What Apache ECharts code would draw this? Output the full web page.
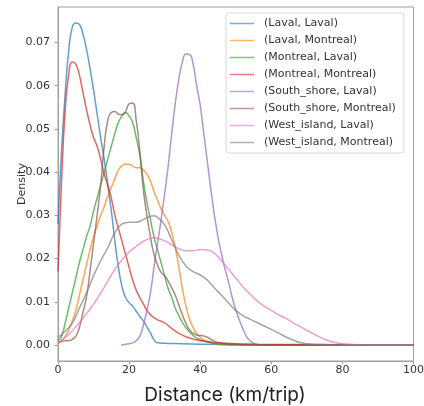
<!DOCTYPE html>
<html>
<head>
<meta charset="utf-8">
<script src="https://cdn.jsdelivr.net/npm/echarts@6/dist/echarts.min.js"></script>
<style>
html,body{margin:0;padding:0;background:#fff;}
#chart{width:424px;height:406px;}
</style>
</head>
<body>
<div id="chart"></div>
<script>
const seriesNames = ['(Laval, Laval)','(Laval, Montreal)','(Montreal, Laval)','(Montreal, Montreal)','(South_shore, Laval)','(South_shore, Montreal)','(West_island, Laval)','(West_island, Montreal)'];
const colors = ['#1f77b4','#ff7f0e','#2ca02c','#d62728','#9467bd','#8c564b','#e377c2','#7f7f7f'];
const yTicks = [0,0.01,0.02,0.03,0.04,0.05,0.06,0.07];
const xTicks = [0,20,40,60,80,100];

const lavalLaval = [[0,0.028],[1,0.045],[2,0.058],[3,0.068],[4,0.0735],[5,0.0745],[6,0.0742],[7,0.072],[8,0.0685],[9,0.064],[10,0.059],[11,0.0535],[12,0.048],[13,0.043],[14,0.037],[15,0.031],[16,0.024],[17,0.018],[18,0.0135],[19,0.011],[20,0.0098],[21,0.009],[22,0.0078],[23,0.0066],[24,0.0056],[25,0.0042],[26,0.0028],[27,0.0012],[28,0.0005],[30,0.0004],[35,0.0003],[40,0.0002],[45,0.0001],[50,0],[100,0]];
const lavalMontreal = [[0,0.0005],[1,0.001],[2,0.002],[3,0.0035],[4,0.0055],[5,0.008],[6,0.0115],[7,0.015],[8,0.0185],[9,0.022],[10,0.025],[11,0.0275],[12,0.030],[13,0.032],[14,0.0345],[15,0.0365],[16,0.0385],[17,0.0405],[18,0.0415],[19,0.0418],[20,0.0418],[21,0.0414],[22,0.041],[23,0.041],[24,0.0405],[25,0.0395],[26,0.038],[27,0.0355],[28,0.0335],[29,0.0315],[30,0.030],[31,0.0285],[32,0.026],[33,0.0225],[34,0.018],[35,0.013],[36,0.009],[37,0.006],[38,0.004],[39,0.0027],[40,0.0018],[41,0.0012],[42,0.0008],[43,0.0005],[45,0.0002],[50,0.0001],[55,0],[100,0]];
const montrealLaval = [[0,0.001],[1,0.002],[2,0.005],[3,0.0085],[4,0.012],[5,0.0155],[6,0.019],[7,0.022],[8,0.025],[9,0.0275],[10,0.031],[11,0.034],[12,0.037],[13,0.040],[14,0.043],[15,0.046],[16,0.049],[17,0.0515],[18,0.053],[19,0.0538],[20,0.053],[21,0.0515],[22,0.048],[23,0.044],[24,0.038],[25,0.033],[26,0.029],[27,0.025],[28,0.022],[29,0.019],[30,0.016],[31,0.013],[32,0.011],[33,0.0085],[34,0.0068],[35,0.0052],[36,0.004],[37,0.003],[38,0.0022],[39,0.0016],[40,0.0012],[42,0.0007],[45,0.0003],[50,0.0001],[55,0],[100,0]];
const montrealMontreal = [[0,0.017],[1,0.038],[2,0.054],[3,0.0625],[4,0.0655],[5,0.065],[6,0.0625],[7,0.0585],[8,0.0545],[9,0.051],[10,0.048],[11,0.046],[12,0.043],[13,0.0395],[14,0.037],[15,0.034],[16,0.030],[17,0.027],[18,0.024],[19,0.021],[20,0.018],[21,0.015],[22,0.0127],[23,0.011],[24,0.0095],[25,0.008],[26,0.007],[27,0.0063],[28,0.0058],[29,0.0055],[30,0.0051],[31,0.0045],[32,0.0038],[33,0.0032],[34,0.0027],[35,0.0023],[36,0.0019],[38,0.0014],[40,0.001],[42,0.0008],[45,0.0005],[50,0.0003],[55,0.0002],[60,0.0001],[70,0.0001],[100,0]];
const southShoreLaval = [[17.8,0],[19,0.0002],[20,0.0003],[21,0.0005],[22,0.001],[23,0.002],[24,0.0045],[25,0.008],[26,0.012],[27,0.018],[28,0.0235],[29,0.029],[30,0.035],[31,0.0415],[32,0.049],[33,0.056],[34,0.0615],[35,0.0655],[36,0.0673],[37,0.0672],[38,0.065],[39,0.060],[40,0.0555],[41,0.049],[42,0.0425],[43,0.036],[44,0.030],[45,0.025],[46,0.021],[47,0.0175],[48,0.0145],[49,0.011],[50,0.0082],[51,0.0058],[52,0.0038],[53,0.002],[54,0.001],[55,0.0004],[56,0.0001],[57,0]];
const southShoreMontreal = [[0,0.0005],[1,0.0008],[2,0.001],[3,0.001],[4,0.0013],[5,0.002],[6,0.004],[7,0.0075],[8,0.011],[9,0.017],[10,0.0235],[11,0.030],[12,0.037],[13,0.046],[14,0.052],[15,0.0538],[16,0.054],[17,0.0534],[18,0.0533],[19,0.054],[20,0.0558],[21,0.056],[22,0.052],[23,0.045],[24,0.036],[25,0.030],[26,0.025],[27,0.021],[28,0.0185],[29,0.0168],[30,0.016],[31,0.0148],[32,0.0132],[33,0.0115],[34,0.0092],[35,0.007],[36,0.005],[37,0.0035],[38,0.0027],[39,0.0023],[40,0.0022],[41,0.0021],[42,0.0018],[43,0.0013],[44,0.0009],[45,0.0006],[48,0.0003],[50,0.0002],[55,0.0001],[60,0],[100,0]];
const westIslandLaval = [[0,0.0005],[2,0.0017],[4,0.0033],[6,0.0052],[8,0.0072],[10,0.0095],[12,0.012],[14,0.0148],[16,0.0175],[18,0.0197],[20,0.0215],[22,0.0228],[24,0.024],[26,0.0247],[27,0.0248],[28,0.0247],[30,0.0241],[32,0.0232],[34,0.0223],[36,0.0218],[38,0.0218],[40,0.0221],[42,0.022],[44,0.0212],[46,0.0195],[48,0.0175],[50,0.0155],[52,0.0135],[54,0.0118],[56,0.0102],[58,0.009],[60,0.008],[62,0.007],[64,0.0062],[66,0.0052],[68,0.0043],[70,0.0034],[72,0.0025],[74,0.0017],[76,0.001],[78,0.0006],[80,0.0003],[84,0.0001],[90,0],[100,0]];
const westIslandMontreal = [[0,0.0018],[2,0.0032],[4,0.005],[6,0.0085],[8,0.012],[10,0.016],[12,0.0195],[14,0.0225],[16,0.026],[18,0.028],[20,0.0284],[22,0.0284],[24,0.029],[26,0.0298],[27,0.0299],[28,0.0295],[30,0.0278],[32,0.0243],[34,0.0208],[36,0.0183],[38,0.017],[40,0.0162],[42,0.015],[44,0.0132],[46,0.0115],[48,0.0097],[50,0.008],[52,0.0068],[54,0.006],[56,0.0052],[58,0.0044],[60,0.0036],[62,0.0028],[64,0.0019],[66,0.0012],[68,0.0006],[70,0.0003],[75,0.0001],[80,0],[100,0]];

const allData = [lavalLaval, lavalMontreal, montrealLaval, montrealMontreal, southShoreLaval, southShoreMontreal, westIslandLaval, westIslandMontreal];

const chart = echarts.init(document.getElementById('chart'), null, {renderer:'canvas'});
const font = 'DejaVu Sans';
const option = {
  animation: false,
  grid: {left: 58, right: 10.5, top: 7, bottom: 45, containLabel: false, outerBoundsMode: 'none', show: true, borderColor: '#a0a0a0', borderWidth: 1, backgroundColor: 'transparent'},
  xAxis: {
    type: 'value', min: 0, max: 100, interval: 20,
    axisLine: {show: true, onZero: false, lineStyle: {color: '#a0a0a0'}},
    axisTick: {show: true, length: 3.5, lineStyle: {color: '#a0a0a0'}},
    axisLabel: {color: '#333', fontFamily: font, fontSize: 11, margin: 4},
    splitLine: {show: false}
  },
  yAxis: {
    type: 'value', min: -0.0037, max: 0.0782,
    name: 'Density', nameLocation: 'middle', nameGap: 30, nameMoveOverlap: false,
    nameTextStyle: {color: '#333', fontFamily: font, fontSize: 11},
    axisLine: {show: true, lineStyle: {color: '#a0a0a0'}},
    axisTick: {show: true, length: 3.5, customValues: yTicks, lineStyle: {color: '#a0a0a0'}},
    axisLabel: {color: '#333', fontFamily: font, fontSize: 11, margin: 8, customValues: yTicks, formatter: v => v.toFixed(2)},
    splitLine: {show: false}
  },
  legend: {
    orient: 'vertical', left: 226, top: 13,
    padding: [4, 8, 4, 4],
    icon: 'rect',
    itemWidth: 24, itemHeight: 1.5, itemGap: 4,
    backgroundColor: '#fff', borderColor: '#d8d8d8', borderWidth: 1, borderRadius: 3,
    textStyle: {color: '#333', fontFamily: font, fontSize: 11, lineHeight: 13, padding: [0, 0, 0, 5]},
    data: seriesNames
  },
  graphic: [{
    type: 'text', x: 225, y: 395,
    style: {text: 'Distance (km/trip)', font: '19px Inter', fill: '#222', align: 'center', verticalAlign: 'middle'}
  }],
  series: seriesNames.map((n, i) => ({
    name: n, type: 'line', data: allData[i], symbol: 'none', smooth: 0.5,
    lineStyle: {width: 1.5, color: colors[i], opacity: 0.7},
    itemStyle: {color: colors[i], opacity: 0.6}
  }))
};
chart.setOption(option);
</script>
</body>
</html>
